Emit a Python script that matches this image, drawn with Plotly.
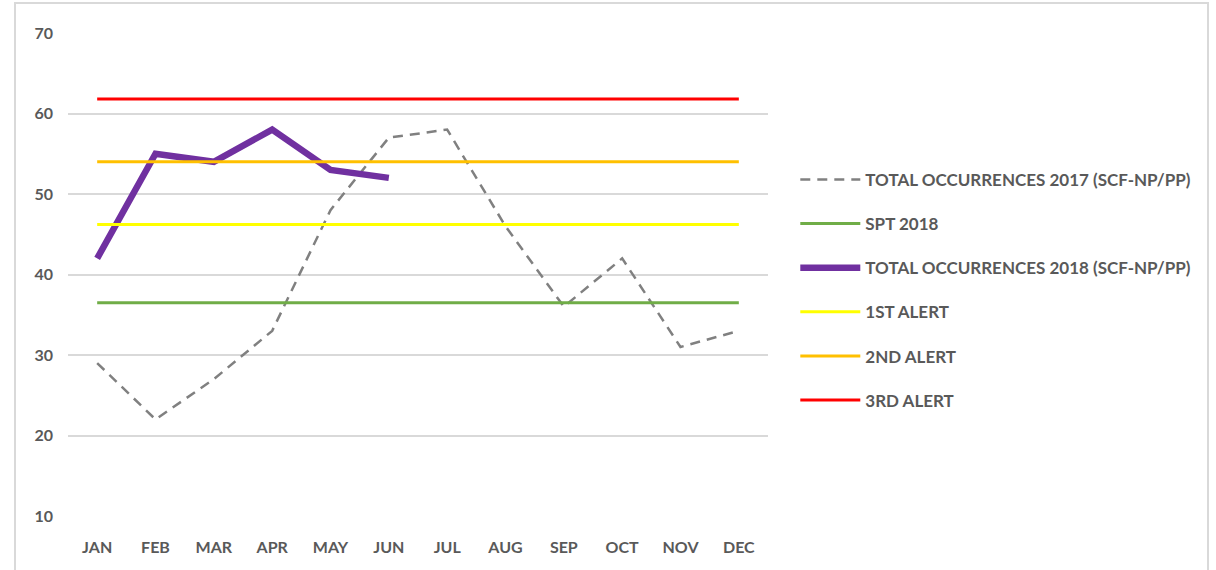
import plotly.graph_objects as go

months = ["JAN", "FEB", "MAR", "APR", "MAY", "JUN", "JUL", "AUG", "SEP", "OCT", "NOV", "DEC"]
total_2017 = [29, 22, 27, 33, 48, 57, 58, 46, 36, 42, 31, 33]
total_2018 = [42, 55, 54, 58, 53, 52]
spt_2018 = 36.5
alert_1 = 46.2
alert_2 = 54.0
alert_3 = 61.8

FONT = "Lato, Arial, sans-serif"
GREY_TXT = "#595959"

# Function to build the occurrences chart
def create_occurrences_graph():
    fig = go.Figure()
    fig.add_trace(go.Scatter(x=months, y=total_2017, mode="lines", name="TOTAL OCCURRENCES 2017 (SCF-NP/PP)",
                             line=dict(color="#808080", width=2.5, dash="10px,7px"), legendgroup="a"))
    fig.add_trace(go.Scatter(x=months, y=[spt_2018] * len(months), mode="lines", name="SPT 2018",
                             line=dict(color="#70AD47", width=3), legendgroup="b"))
    fig.add_trace(go.Scatter(x=months[:len(total_2018)], y=total_2018, mode="lines", name="TOTAL OCCURRENCES 2018 (SCF-NP/PP)",
                             line=dict(color="#7030A0", width=6.5), legendgroup="c"))
    fig.add_trace(go.Scatter(x=months, y=[alert_1] * len(months), mode="lines", name="1ST ALERT",
                             line=dict(color="#FFFF00", width=3), legendgroup="d"))
    fig.add_trace(go.Scatter(x=months, y=[alert_2] * len(months), mode="lines", name="2ND ALERT",
                             line=dict(color="#FFC000", width=3), legendgroup="e"))
    fig.add_trace(go.Scatter(x=months, y=[alert_3] * len(months), mode="lines", name="3RD ALERT",
                             line=dict(color="#FF0000", width=3), legendgroup="f"))

    fig.update_layout(
        width=1216, height=570,
        margin=dict(l=68, r=448, t=33, b=54),
        plot_bgcolor="white", paper_bgcolor="white",
        font=dict(family=FONT, size=16, color=GREY_TXT, weight="bold"),
        legend=dict(x=1.039, y=0.733, xanchor="left", yanchor="top", traceorder="grouped",
                    tracegroupgap=19, font=dict(size=17, color=GREY_TXT, weight="bold"), itemwidth=60),
        shapes=[dict(type="rect", xref="paper", yref="paper", x0=-0.0757, x1=1.6286, y0=-0.15, y1=1.062,
                     line=dict(color="#D9D9D9", width=2), layer="below")],
    )
    fig.update_xaxes(type="category", showgrid=False, showline=False, zeroline=False,
                     range=[-0.5, 11.5], ticks="", ticklabelstandoff=20,
                     tickfont=dict(size=16, color=GREY_TXT, weight="bold"))
    fig.update_yaxes(range=[10, 70], dtick=10, showgrid=True, gridcolor="#D9D9D9", gridwidth=1.5,
                     zeroline=False, showline=False, ticks="", ticklabelstandoff=14,
                     tickfont=dict(size=16, color=GREY_TXT, weight="bold"))
    return fig


fig = create_occurrences_graph()
fig.write_html("out.html", config={"displayModeBar": False},
               post_script="document.body.style.margin='0';")
